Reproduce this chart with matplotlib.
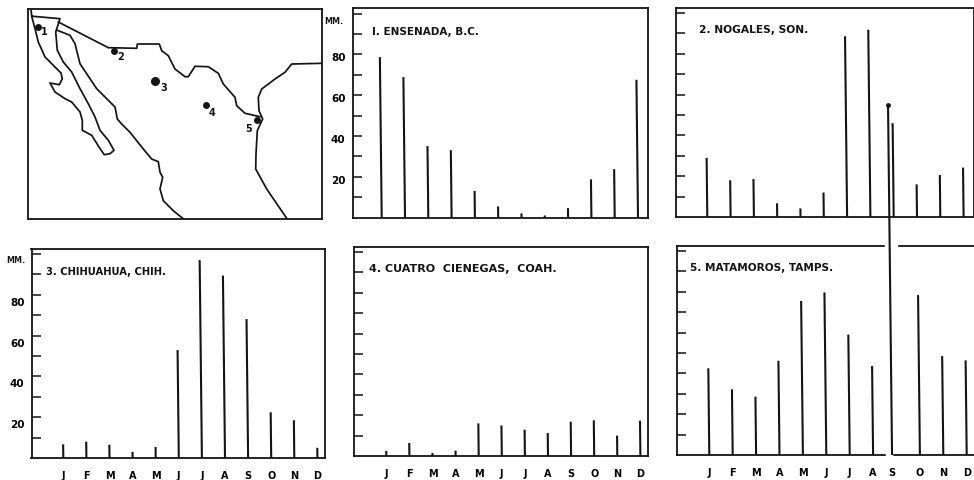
import matplotlib
matplotlib.use("Agg")
import matplotlib.pyplot as plt
import numpy as np
from matplotlib.transforms import ScaledTranslation

months = ['J', 'F', 'M', 'A', 'M', 'J', 'J', 'A', 'S', 'O', 'N', 'D']

# rainfall in mm per month
ensenada = [78.6, 68.8, 35, 33, 13, 5.4, 2, 1, 4.6, 18.7, 23.7, 67.5]
nogales = [29, 18, 18.6, 6.7, 4.2, 12, 88.6, 91.8, 46, 16, 20.6, 24.2]
chihuahua = [6.7, 8, 6.5, 3, 5.4, 52.9, 97, 89.4, 68.1, 22.4, 18.5, 5]
cuatro = [2.5, 6.4, 1.5, 2.6, 16, 15, 12.9, 11.3, 16.8, 17.5, 10, 17.3]
matamoros = [42.5, 32.2, 28.6, 46.2, 75.5, 79.7, 59, 43.6, 171.6, 78.4, 48.5, 46.4]

# map outlines, in picture pixels
baja_x = [31, 31.7, 35, 38.3, 45, 53.3, 61, 62.3, 59.3, 50, 55, 65, 71.7, 80, 82.3, 82.3, 91.7, 99, 104.3, 110, 114,
          108.3, 100, 95, 88.3, 80, 71.7, 63.3, 57.3, 55.7, 60, 33]
baja_y = [10, 17.3, 29.7, 43, 58, 66.3, 74, 79.7, 85.7, 84, 93, 99.7, 103, 113, 121.3, 131.3, 136.3, 148, 155.7, 154.7,
          151.3, 141.3, 131.3, 118, 104.7, 89.7, 73, 63, 51.3, 33, 19.7, 17.3]
border_x = [58.3, 108.3, 136.7, 137.3, 159.3, 161.7, 168.3, 175, 185, 188.3, 195, 208.3, 218.3, 223.3, 235, 236.7,
            245, 260]
border_y = [23, 48.7, 49.3, 45, 45, 51.7, 56.7, 70, 77.7, 77.7, 67.3, 67.7, 74.3, 85, 98.3, 106.7, 114.3, 117.7]
pacific_x = [57.3, 70, 75, 80, 96.7, 115, 117.3, 121.7, 130, 143.3, 151.7, 158.3, 160, 162.7, 160, 163.3, 173.3, 182.7]
pacific_y = [31.3, 36.3, 44.7, 64.7, 89.7, 108, 120, 125, 133.3, 150, 160, 162.7, 173.3, 178.3, 190, 201.7, 211.7, 219.3]
gulf_x = [322, 291.7, 285, 275, 261.7, 258.3, 259, 262.7, 257.3, 256, 255.7, 266.7, 286.7]
gulf_y = [64.3, 65, 73.3, 80, 90, 98.3, 111.7, 120, 131.7, 155, 170, 190, 219.3]
site_x = [38.3, 114, 155, 205.7, 256.7]
site_y = [28.3, 51.7, 81.7, 106, 121]
site_size = [5, 5, 6.5, 5, 5]
site_labels = ['1', '2', '3', '4', '5']
label_x = [44, 121, 163.7, 212.3, 249]
label_y = [32, 56.7, 88.3, 112.7, 129]

W, H = 974, 481
INK = '#141414'
MM_PX = 2.04  # pixels per mm on all the bar panels

plt.rcParams['font.family'] = 'DejaVu Sans'
plt.rcParams['font.weight'] = 'bold'

fig = plt.figure(figsize=(W / 100, H / 100), dpi=100, facecolor='white')


def make_axes(left, top, right, bottom):
    ax = fig.add_axes([left / W, 1 - bottom / H, (right - left) / W, (bottom - top) / H])
    for s in ax.spines.values():
        s.set_linewidth(1.3)
        s.set_color(INK)
    return ax


def panel(values, rect, x0, step, title, title_xy, title_size, month_labels=True, label_drop=None, lean=0.001,
          shift=None):
    left, top, right, bottom = rect
    ax = make_axes(left, top, right, bottom)
    ax.set_xlim((left - x0) / step, (right - x0) / step)
    ax.set_ylim(0, (bottom - top) / MM_PX)
    xs = np.arange(12, dtype=float)
    if shift is not None:
        xs = xs + shift
    for x, v in zip(xs, values):
        # the stems lean a little in the scan
        ax.plot([x - lean * v, x], [v, 0], color=INK, lw=1.5, solid_capstyle='butt', clip_on=False, zorder=3)
    ax.set_yticks(np.arange(10, 101, 10))
    ax.tick_params(axis='y', direction='in', length=6.5, width=1.1, color=INK, pad=5)
    ax.tick_params(axis='x', length=0, pad=8.5)
    if month_labels:
        ax.set_xticks(xs)
        ax.set_xticklabels(months, fontsize=7)
    else:
        ax.set_xticks([])
    if label_drop is not None:
        ax.set_yticklabels(['', '20', '', '40', '', '60', '', '80', '', ''], fontsize=7.5)
        for lab in ax.get_yticklabels():
            lab.set_transform(lab.get_transform() + ScaledTranslation(0, -label_drop / 100, fig.dpi_scale_trans))
    else:
        ax.set_yticklabels([])
    fig.text(title_xy[0] / W, 1 - title_xy[1] / H, title, fontsize=title_size, color=INK, va='center', ha='left')
    return ax


# map
mp = make_axes(28, 10, 322, 219.5)
mp.set_xlim(28, 322)
mp.set_ylim(219.5, 10)
mp.set_xticks([])
mp.set_yticks([])
for xs, ys in [(baja_x, baja_y), (border_x, border_y), (pacific_x, pacific_y), (gulf_x, gulf_y)]:
    mp.plot(xs, ys, color=INK, lw=1.25)
for x, y, s in zip(site_x, site_y, site_size):
    mp.plot(x, y, 'o', color=INK, ms=s, mew=0)
for x, y, t in zip(label_x, label_y, site_labels):
    mp.text(x, y, t, fontsize=7, color=INK, ha='center', va='center')

panel(ensenada, (352.5, 9, 648, 218.5), 381.7, 23.3, 'I. ENSENADA, B.C.', (371.5, 31.7), 7.5,
      month_labels=False, label_drop=2)
panel(nogales, (676, 9, 974, 218), 707.3, 23.3, '2. NOGALES, SON.', (699, 30), 7.7, month_labels=False)
panel(chihuahua, (31.5, 250, 325, 459), 63.3, 23.1, '3. CHIHUAHUA, CHIH.', (45.5, 271.7), 7.2, label_drop=6)
panel(cuatro, (354, 248, 648, 457), 386.3, 23.1, '4. CUATRO  CIENEGAS,  COAH.', (369, 269), 8)
shift5 = np.zeros(12)
shift5[8] = -0.19  # September stem sits left of its slot
ax5 = panel(matamoros, (677, 247, 976, 456), 709.3, 23.4, '5. MATAMOROS, TAMPS.', (690, 268), 7.6, shift=shift5)

# September stem at Matamoros runs up through the Nogales panel, with a dot on top
ax5.plot(8 + shift5[8] - 0.001 * matamoros[8], matamoros[8], 'o', color=INK, ms=3.5, mew=0, clip_on=False, zorder=3)
ytop = ax5.get_ylim()[1]
ax5.plot([7.55, 7.98], [ytop, ytop], color='white', lw=2.5, clip_on=False, zorder=2.8)
ax5.plot([7.6, 7.77], [0, 0], color='white', lw=2.5, clip_on=False, zorder=2.8)

fig.text(334 / W, 1 - 22 / H, 'MM.', fontsize=5.8, color=INK, ha='center', va='center')
fig.text(16 / W, 1 - 261 / H, 'MM.', fontsize=5.8, color=INK, ha='center', va='center')

fig.savefig('out.png', dpi=100)
